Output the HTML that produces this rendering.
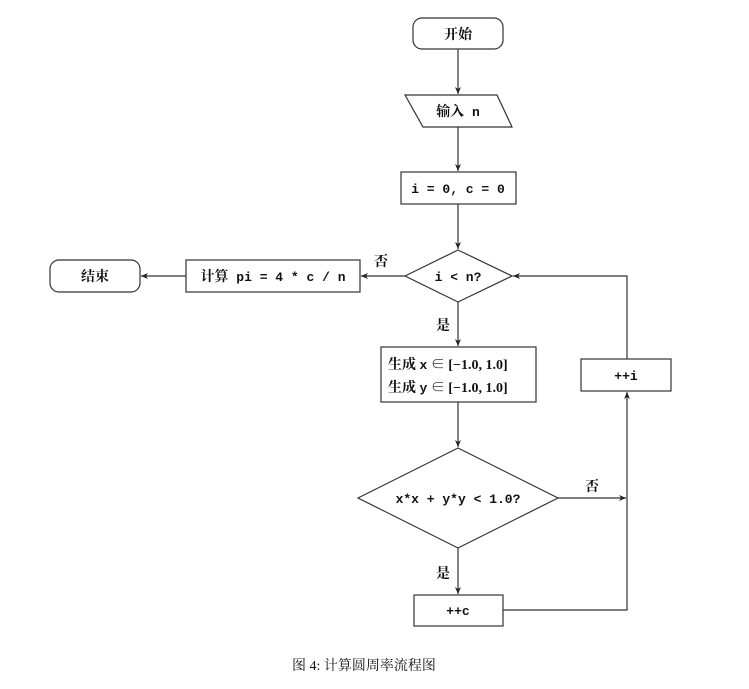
<!DOCTYPE html>
<html><head><meta charset="utf-8"><style>
html,body{margin:0;padding:0;background:#fff}
svg{display:block}
.m{font-family:"Liberation Mono","Noto Sans CJK SC",monospace;font-weight:bold;font-size:13px;fill:#111}
.c{font-family:"Liberation Serif","Noto Serif CJK SC",serif;font-weight:bold;font-size:14px;fill:#111}
.s{font-family:"Liberation Serif","Noto Serif CJK SC",serif;font-size:14px;fill:#111}
</style></head><body>
<svg width="749" height="689" viewBox="0 0 749 689" xmlns="http://www.w3.org/2000/svg">
<defs><marker id="a" markerWidth="8" markerHeight="8" refX="7" refY="4" orient="auto" markerUnits="userSpaceOnUse"><path d="M0,1 L7,4 L0,7 L2,4 z" fill="#222"/></marker></defs>
<g fill="none" stroke="#333" stroke-width="1.2">
<rect x="413" y="18" width="90" height="31" rx="9"/>
<polygon points="405,95 497,95 512,127 423,127"/>
<rect x="401" y="172" width="115" height="32"/>
<polygon points="405,276 458,250 512,276 458,302"/>
<rect x="186" y="260" width="174" height="32"/>
<rect x="50" y="260" width="90" height="32" rx="9"/>
<rect x="381" y="347" width="155" height="55"/>
<rect x="581" y="359" width="90" height="32"/>
<polygon points="358,498 458,448 558,498 458,548"/>
<rect x="414" y="595" width="89" height="31"/>
<g marker-end="url(#a)">
<line x1="458" y1="49" x2="458" y2="94"/>
<line x1="458" y1="127" x2="458" y2="171"/>
<line x1="458" y1="204" x2="458" y2="249"/>
<line x1="405" y1="276" x2="361" y2="276"/>
<line x1="186" y1="276" x2="141" y2="276"/>
<line x1="458" y1="302" x2="458" y2="346"/>
<line x1="458" y1="402" x2="458" y2="447"/>
<line x1="558" y1="498" x2="626" y2="498"/>
<line x1="458" y1="548" x2="458" y2="594"/>
<polyline points="503,610 627,610 627,392"/>
<polyline points="627,359 627,276 513,276"/>
</g></g>
<text x="458" y="39" text-anchor="middle" class="c">开始</text>
<text x="458" y="116" text-anchor="middle" class="m"><tspan class="c">输入</tspan> n</text>
<text x="458" y="193" text-anchor="middle" class="m">i = 0, c = 0</text>
<text x="458" y="281" text-anchor="middle" class="m">i &lt; n?</text>
<text x="273" y="281" text-anchor="middle" class="m"><tspan class="c">计算</tspan> pi = 4 * c / n</text>
<text x="95" y="281" text-anchor="middle" class="c">结束</text>
<text x="374" y="266" class="c">否</text>
<text x="436" y="330" class="c">是</text>
<text x="388" y="369" class="c">生成 <tspan class="m">x</tspan> <tspan class="s">∈ [−1.0, 1.0]</tspan></text>
<text x="388" y="392" class="c">生成 <tspan class="m">y</tspan> <tspan class="s">∈ [−1.0, 1.0]</tspan></text>
<text x="626" y="380" text-anchor="middle" class="m">++i</text>
<text x="458" y="503" text-anchor="middle" class="m">x*x + y*y &lt; 1.0?</text>
<text x="585" y="491" class="c">否</text>
<text x="436" y="578" class="c">是</text>
<text x="458" y="615" text-anchor="middle" class="m">++c</text>
<text x="364" y="670" text-anchor="middle" class="s">图 4: 计算圆周率流程图</text>
</svg>
</body></html>
